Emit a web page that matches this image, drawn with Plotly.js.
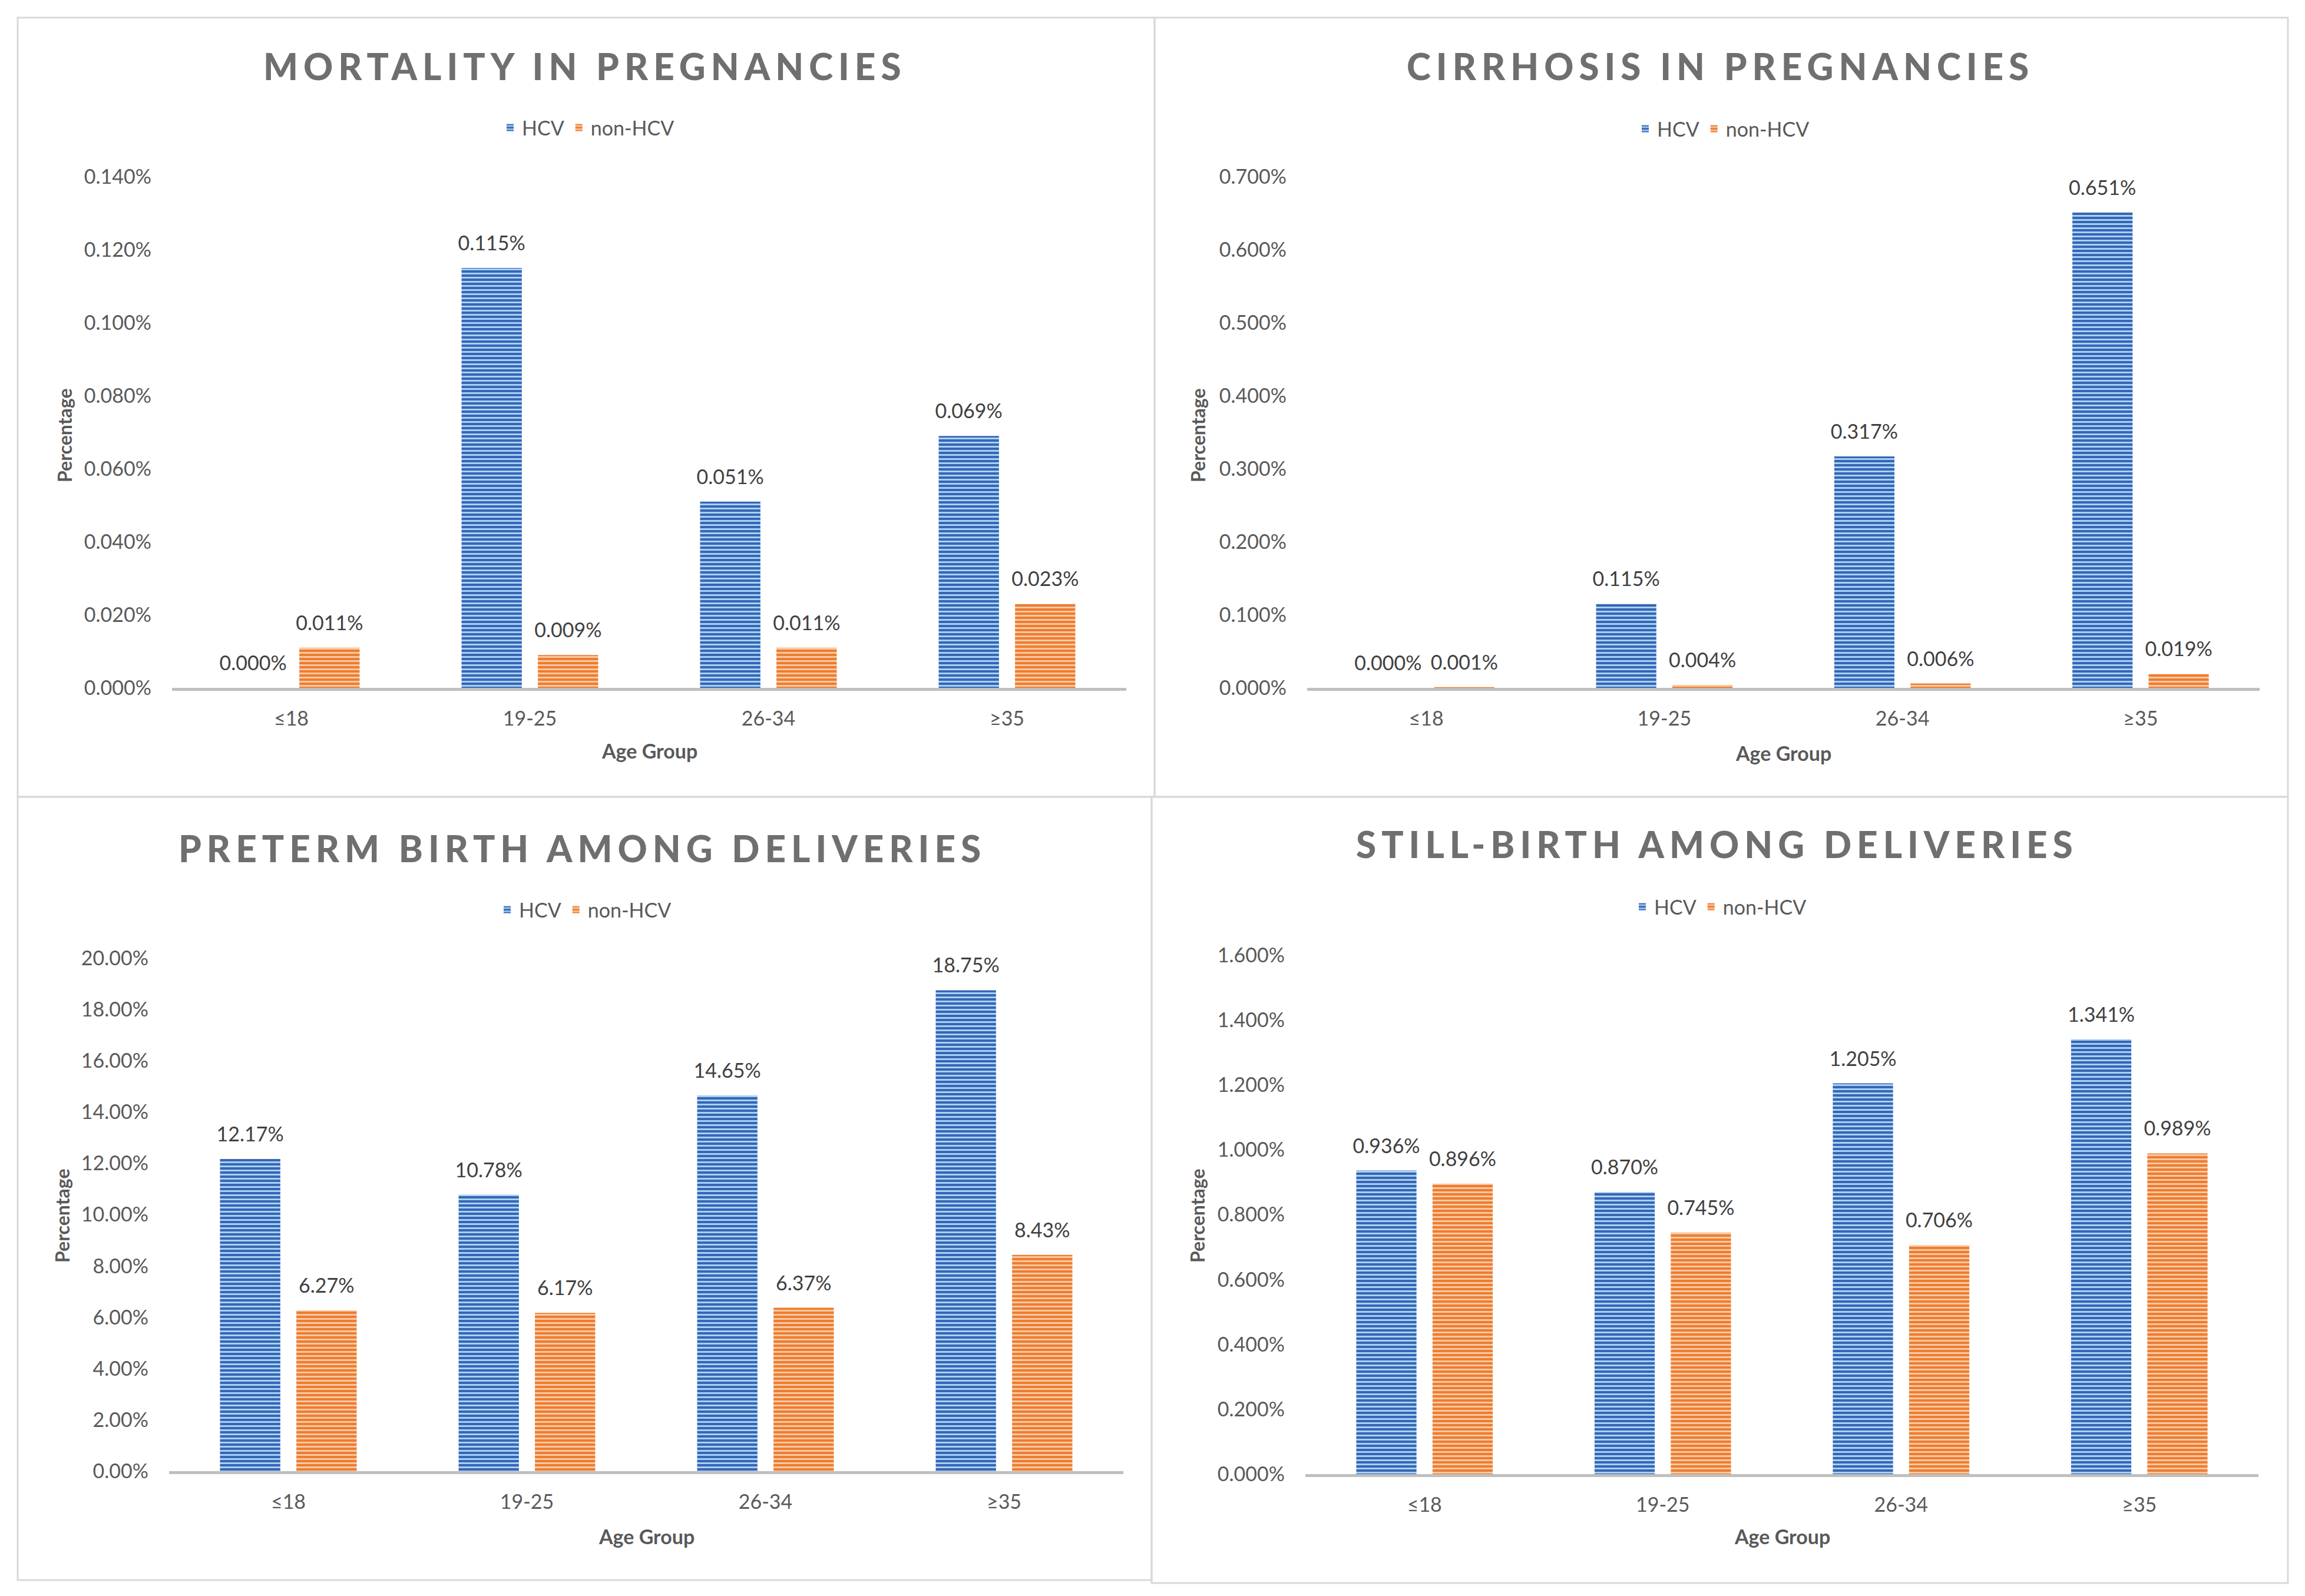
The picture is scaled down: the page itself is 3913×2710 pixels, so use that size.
<!DOCTYPE html>
<html>
<head>
<meta charset="utf-8">
<script src="https://cdn.plot.ly/plotly-3.0.1.min.js"></script>
<style>
  html, body { margin: 0; padding: 0; background: #ffffff; }
  #chart { width: 3913px; height: 2710px; }
</style>
</head>
<body>
<div id="chart"></div>
<script>
// ---------------- DATA ----------------
const ageGroups = ['≤18', '19-25', '26-34', '≥35'];
const seriesNames = ['HCV', 'non-HCV'];

const mortalityHCV = [0.000, 0.115, 0.051, 0.069];
const mortalityNonHCV = [0.011, 0.009, 0.011, 0.023];

const cirrhosisHCV = [0.000, 0.115, 0.317, 0.651];
const cirrhosisNonHCV = [0.001, 0.004, 0.006, 0.019];

const pretermHCV = [12.17, 10.78, 14.65, 18.75];
const pretermNonHCV = [6.27, 6.17, 6.37, 8.43];

const stillbirthHCV = [0.936, 0.870, 1.205, 1.341];
const stillbirthNonHCV = [0.896, 0.745, 0.706, 0.989];

const panelTitles = ['MORTALITY IN PREGNANCIES', 'CIRRHOSIS IN PREGNANCIES',
                     'PRETERM BIRTH AMONG DELIVERIES', 'STILL-BIRTH AMONG DELIVERIES'];
const xAxisTitle = 'Age Group';
const yAxisTitle = 'Percentage';

// ---------------- LAYOUT HELPERS ----------------
const W = 3913, H = 2710;
const X = px => px / W;
const Y = py => 1 - py / H;
const FONT = 'Lato, "Open Sans", sans-serif';
const TXT = '#595959';

const colors = {
  HCV: { dark: '#3766b5', light: '#a9d3f6' },
  'non-HCV': { dark: '#ed7d31', light: '#fbcaa4' }
};

// panel geometry in pixels
const panels = [
  { hcv: mortalityHCV, non: mortalityNonHCV, range: [0, 0.14], dtick: 0.02, fmt: '.3f',
    plot: [292, 1912, 300, 1168], box: [30, 1960, 30, 1353],
    title: [993, 112], legend: [998, 217], xt: [1102, 1275], yt: [110, 739] },
  { hcv: cirrhosisHCV, non: cirrhosisNonHCV, range: [0, 0.7], dtick: 0.1, fmt: '.3f',
    plot: [2219, 3836, 300, 1168], box: [1960, 3884, 30, 1353],
    title: [2920, 112], legend: [2925, 219], xt: [3027, 1278], yt: [2034, 739] },
  { hcv: pretermHCV, non: pretermNonHCV, range: [0, 20], dtick: 2, fmt: '.2f',
    plot: [287, 1907, 1627, 2498], box: [30, 1955, 1353, 2683],
    title: [988, 1440], legend: [993, 1545], xt: [1097, 2608], yt: [105, 2064] },
  { hcv: stillbirthHCV, non: stillbirthNonHCV, range: [0, 1.6], dtick: 0.2, fmt: '.3f',
    plot: [2216, 3834, 1622, 2503], box: [1955, 3884, 1353, 2688],
    title: [2915, 1433], legend: [2920, 1540], xt: [3025, 2608], yt: [2032, 2064] }
];

const data = [];
const layout = {
  width: W, height: H,
  margin: { l: 0, r: 0, t: 0, b: 0 },
  paper_bgcolor: '#ffffff', plot_bgcolor: '#ffffff',
  font: { family: FONT, color: TXT, size: 34 },
  barmode: 'group', bargap: 0.36, bargroupgap: 0.21,
  showlegend: true,
  annotations: [], shapes: []
};

panels.forEach((p, i) => {
  const n = i + 1;
  const xa = n === 1 ? 'x' : 'x' + n;
  const ya = n === 1 ? 'y' : 'y' + n;
  const lg = n === 1 ? 'legend' : 'legend' + n;
  [[seriesNames[0], p.hcv], [seriesNames[1], p.non]].forEach(([name, vals]) => {
    const c = colors[name];
    data.push({
      type: 'bar', name: name, x: ageGroups, y: vals,
      xaxis: xa, yaxis: ya, legend: lg,
      marker: {
        color: c.dark,
        line: { width: 0 },
        pattern: { shape: '-', fgcolor: c.light, bgcolor: c.dark, size: 7, solidity: 0.42, fillmode: 'replace' }
      },
      texttemplate: '%{y:' + p.fmt + '}%',
      textposition: 'outside',
      constraintext: 'none',
      textfont: { family: FONT, size: 34, color: '#404040' },
      cliponaxis: false,
      hoverinfo: 'skip'
    });
  });
  layout['xaxis' + (n === 1 ? '' : n)] = {
    domain: [X(p.plot[0]), X(p.plot[1])],
    anchor: ya,
    showline: true, linecolor: '#bfbfbf', linewidth: 5,
    showgrid: false, zeroline: false, ticks: '',
    tickfont: { family: FONT, size: 34, color: TXT },
    ticklabelstandoff: 18,
    fixedrange: true
  };
  layout['yaxis' + (n === 1 ? '' : n)] = {
    domain: [Y(p.plot[3]), Y(p.plot[2])],
    anchor: xa,
    range: p.range, dtick: p.dtick, tick0: 0,
    tickformat: p.fmt, ticksuffix: '%',
    showline: false, showgrid: false, zeroline: false, ticks: '',
    tickfont: { family: FONT, size: 34, color: TXT },
    ticklabelstandoff: 34,
    fixedrange: true
  };
  layout[lg] = {
    orientation: 'h', x: X(p.legend[0]), y: Y(p.legend[1]),
    xanchor: 'center', yanchor: 'middle',
    font: { family: FONT, size: 34, color: TXT },
    bgcolor: 'rgba(0,0,0,0)', itemwidth: 30, traceorder: 'normal'
  };
  layout.annotations.push({
    text: panelTitles[i], xref: 'paper', yref: 'paper',
    x: X(p.title[0]), y: Y(p.title[1]), xanchor: 'center', yanchor: 'middle',
    showarrow: false, font: { family: FONT, size: 62, color: '#6f6f6f', weight: 900 }
  });
  layout.annotations.push({
    text: '<b>' + xAxisTitle + '</b>', xref: 'paper', yref: 'paper',
    x: X(p.xt[0]), y: Y(p.xt[1]), xanchor: 'center', yanchor: 'middle',
    showarrow: false, font: { family: FONT, size: 34, color: TXT }
  });
  layout.annotations.push({
    text: '<b>' + yAxisTitle + '</b>', xref: 'paper', yref: 'paper', textangle: -90,
    x: X(p.yt[0]), y: Y(p.yt[1]), xanchor: 'center', yanchor: 'middle',
    showarrow: false, font: { family: FONT, size: 32, color: TXT }
  });
  layout.shapes.push({
    type: 'rect', xref: 'paper', yref: 'paper', layer: 'below',
    x0: X(p.box[0]), x1: X(p.box[1]), y0: Y(p.box[3]), y1: Y(p.box[2]),
    line: { color: '#d9d9d9', width: 3 }, fillcolor: 'rgba(0,0,0,0)'
  });
});

Plotly.newPlot('chart', data, layout, { displayModeBar: false, staticPlot: true }).then(() => {
  document.querySelectorAll('.annotation-text').forEach(t => {
    if (panelTitles.includes(t.textContent)) t.style.letterSpacing = '9px';
  });
  // lift the value labels a little above the bars, as in the reference
  document.querySelectorAll('.bartext').forEach(t => {
    const tr = t.getAttribute('transform') || '';
    t.setAttribute('transform', 'translate(0,-20) ' + tr);
  });
});
</script>
</body>
</html>
